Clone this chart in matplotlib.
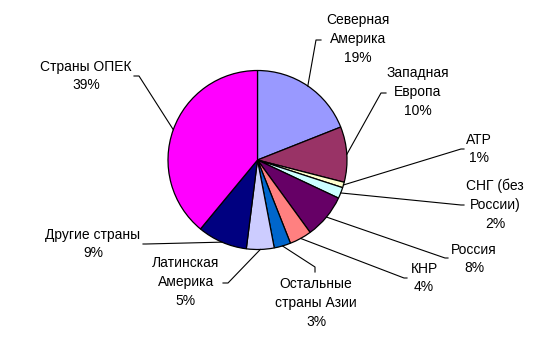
import numpy as np
import matplotlib
matplotlib.use("Agg")
import matplotlib.pyplot as plt

plt.rcParams['font.family'] = ['Liberation Sans', 'DejaVu Sans']

# regions and their shares (%)
regions = ["Северная\nАмерика", "Западная\nЕвропа", "АТР", "СНГ (без\nРоссии)", "Россия",
           "КНР", "Остальные\nстраны Азии", "Латинская\nАмерика", "Другие страны", "Страны ОПЕК"]
shares = [19, 10, 1, 2, 8, 4, 3, 5, 9, 39]
colors = ["#9999FF", "#993366", "#FFFFCC", "#CCFFFF", "#660066",
          "#FF8080", "#0066CC", "#CCCCFF", "#000080", "#FF00FF"]

# label layout in pixels (y down): text centre, leader elbow, leader end
text_pos = [(358, 39), (418, 92), (479, 149), (495, 205), (474, 259),
            (424, 278), (316, 303), (186, 282), (93, 244), (86, 76)]
elbows = [(316, 40), (381, 93), (461, 149), (461, 205), (445, 258),
          (404, 278), (315, 267), (228, 283), (146, 244), (139, 76)]
ends = [(321, 40), (386, 93), (464, 149), (464, 205), (448, 258),
        (407, 278), (315, 272), (223, 283), (143, 244), (134, 76)]

cx, cy, r = 257.5, 160, 89.5

fig = plt.figure(figsize=(5.56, 3.6), dpi=100)
ax = fig.add_axes([0, 0, 1, 1])

ax.pie(shares, colors=colors, center=(cx, cy), radius=r, startangle=-90,
       counterclock=True, wedgeprops=dict(edgecolor='black', linewidth=0.9),
       frame=True)
ax.set_xlim(0, 556)
ax.set_ylim(360, 0)
ax.set_aspect('equal')
ax.axis('off')

total = float(sum(shares))
cum = 0.0
for i, s in enumerate(shares):
    mid = -90 + 360 * (cum + s / 2) / total
    cum += s
    sx = cx + r * np.cos(np.radians(mid))
    sy = cy + r * np.sin(np.radians(mid))
    ex, ey = elbows[i]
    fx, fy = ends[i]
    ax.plot([sx, ex, fx], [sy, ey, fy], color='black', lw=0.8)
    tx, ty = text_pos[i]
    ax.text(tx, ty, "%s\n%d%%" % (regions[i], s), ha='center', va='center',
            fontsize=10, linespacing=1.45)

fig.savefig("out.png", dpi=100)
